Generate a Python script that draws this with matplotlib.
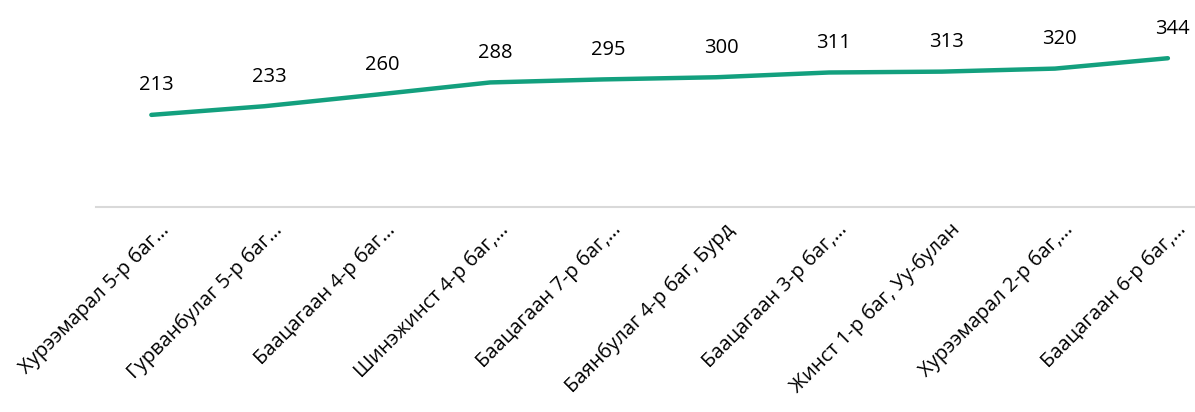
import matplotlib
matplotlib.use('Agg')
import matplotlib.pyplot as plt
import matplotlib.transforms as mtrans

labels = ['Хурээмарал 5-р баг…', 'Гурванбулаг 5-р баг…', 'Баацагаан 4-р баг…',
          'Шинэжинст 4-р баг,…', 'Баацагаан 7-р баг,…', 'Баянбулаг 4-р баг, Бурд',
          'Баацагаан 3-р баг,…', 'Жинст 1-р баг, Уу-булан', 'Хурээмарал 2-р баг,…',
          'Баацагаан 6-р баг,…']
values = [213, 233, 260, 288, 295, 300, 311, 313, 320, 344]

plt.rcParams['font.family'] = ['Open Sans', 'DejaVu Sans']

fig = plt.figure(figsize=[11.95, 4.12], dpi=100)
ax = fig.add_axes([96/1195, 1-207/412, 1-96/1195, (207-34)/412])

x = list(range(len(values)))
ax.plot(x, values, color='#13A07E', lw=3.2, solid_capstyle='round')
for xi, v in zip(x, values):
    ax.annotate(str(v), (xi, v), xytext=(3.5, 14), textcoords='offset points',
                ha='center', va='bottom', fontsize=14.5)

ax.set_xlim(-0.49, 9.24)
ax.set_ylim(0, 400)
ax.set_yticks([])
ax.set_xticks(x)
ax.set_xticklabels(labels, rotation=45, ha='right', rotation_mode='anchor', fontsize=14.5)
ax.tick_params(axis='x', length=0, pad=9)
off = mtrans.ScaledTranslation(8/100, 0, fig.dpi_scale_trans)
for t in ax.get_xticklabels():
    t.set_transform(t.get_transform() + off)

for s in ['top', 'right', 'left']:
    ax.spines[s].set_visible(False)
ax.spines['bottom'].set_color('#D9D9D9')
ax.spines['bottom'].set_linewidth(1.5)

fig.savefig('out.png', dpi=100)
